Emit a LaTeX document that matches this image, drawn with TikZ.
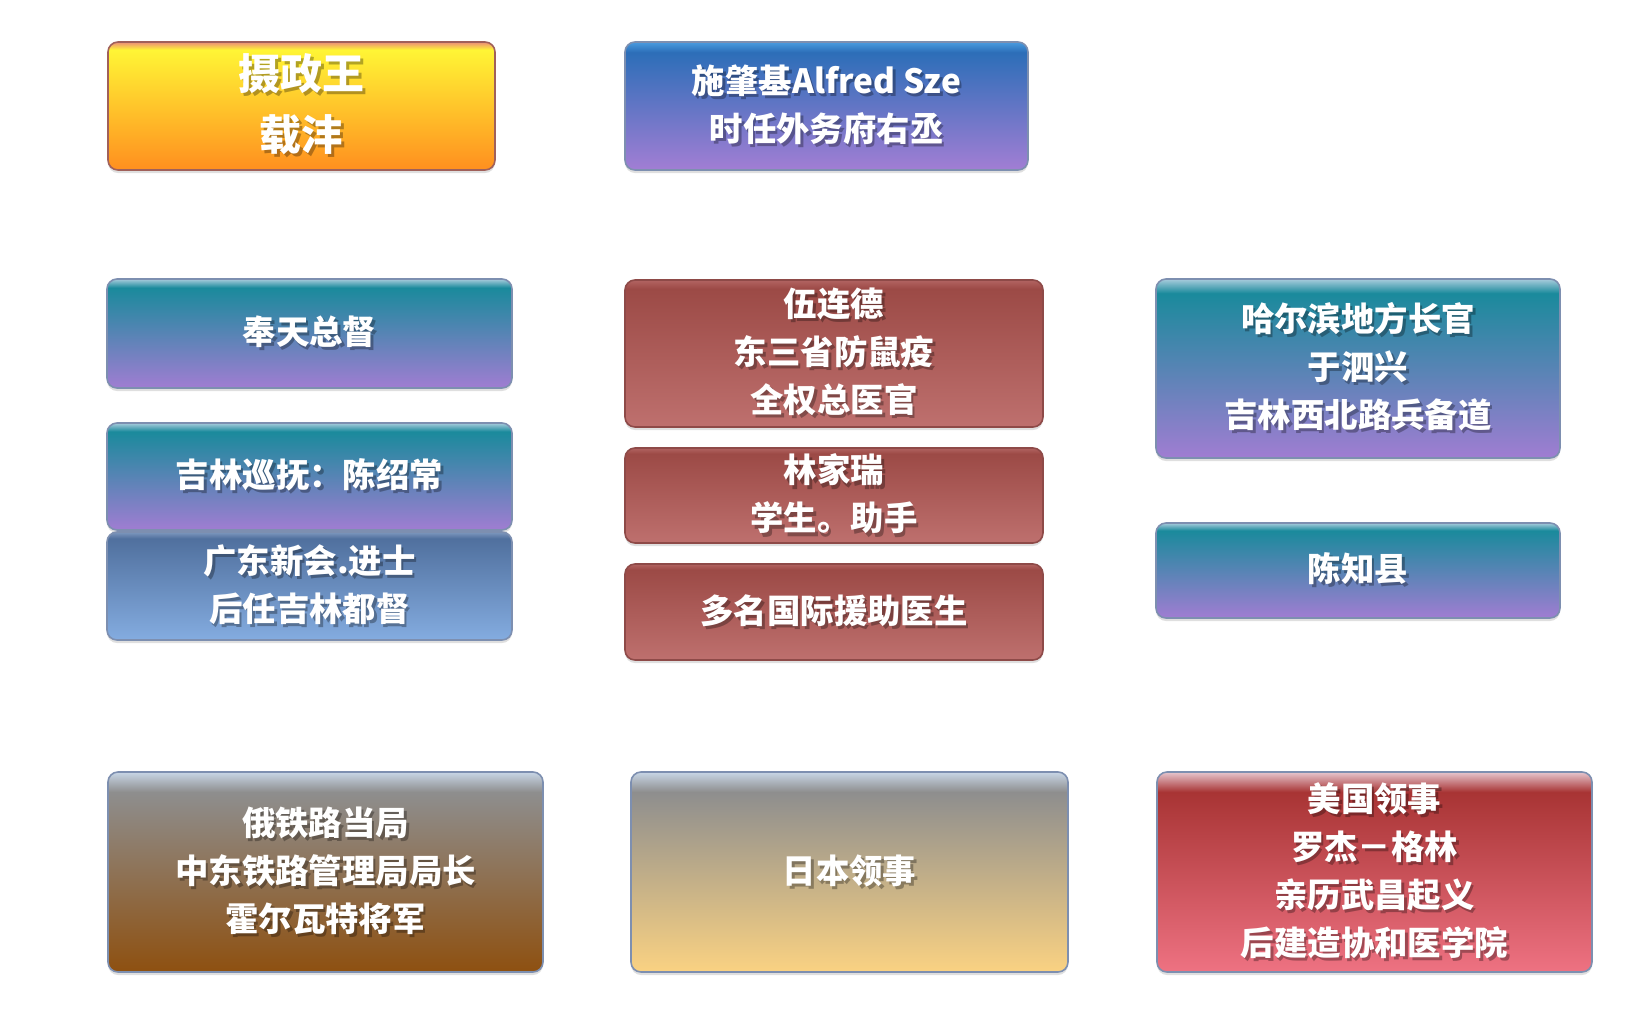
\documentclass[tikz,border=0pt]{standalone}
\usepackage{fontspec}
\newfontfamily\cjk{Noto Sans CJK SC}
\usetikzlibrary{positioning, shadows}
\definecolor{cBorder}{HTML}{7D8FB0}
\definecolor{cOrangeBorder}{HTML}{A0605A}
\definecolor{cRedBorder}{HTML}{8E4A48}
\definecolor{cOrangeHi}{HTML}{EC8C78}
\definecolor{cOrangeTop}{HTML}{FFF535}
\definecolor{cOrangeBot}{HTML}{FF8F1F}
\definecolor{cSzeHi}{HTML}{4A9CE0}
\definecolor{cSzeTop}{HTML}{2C6EB8}
\definecolor{cSzeBot}{HTML}{A27ED4}
\definecolor{cTealHi}{HTML}{A8CCDC}
\definecolor{cTealTop}{HTML}{1A8A9C}
\definecolor{cTealBot}{HTML}{A07DD2}
\definecolor{cSteelHi}{HTML}{7E98BE}
\definecolor{cSteelTop}{HTML}{50709E}
\definecolor{cSteelBot}{HTML}{84ACE0}
\definecolor{cRedHi}{HTML}{B26462}
\definecolor{cRedTop}{HTML}{9C4A46}
\definecolor{cRedBot}{HTML}{BE706E}
\definecolor{cGrayHi}{HTML}{C8D6E6}
\definecolor{cGrayTop}{HTML}{8E8E8E}
\definecolor{cBrownBot}{HTML}{8E5010}
\definecolor{cTanBot}{HTML}{FAD282}
\definecolor{cPinkHi}{HTML}{E6C6CE}
\definecolor{cPinkTop}{HTML}{A83434}
\definecolor{cPinkBot}{HTML}{EE7282}

% glossy vertical shadings: name, bottom, top, highlight, where top colour starts
\newcommand{\glossshading}[5]{\pgfdeclareverticalshading{#1}{100bp}{color(0bp)=(#2); color(25bp)=(#2); color(#5)=(#3); color(75bp)=(#4); color(100bp)=(#4)}}
\glossshading{glossOrange}{cOrangeBot}{cOrangeTop}{cOrangeHi}{72bp}
\glossshading{glossSze}{cSzeBot}{cSzeTop}{cSzeHi}{71bp}
\glossshading{glossTeal}{cTealBot}{cTealTop}{cTealHi}{71bp}
\glossshading{glossSteel}{cSteelBot}{cSteelTop}{cSteelHi}{72bp}
\glossshading{glossRed}{cRedBot}{cRedTop}{cRedHi}{72bp}
\glossshading{glossBrown}{cBrownBot}{cGrayTop}{cGrayHi}{70bp}
\glossshading{glossTan}{cTanBot}{cGrayTop}{cGrayHi}{70bp}
\glossshading{glossPink}{cPinkBot}{cPinkTop}{cPinkHi}{70bp}

% text with a soft shadow
\makeatletter
\newcommand{\sh}[1]{\leavevmode\rlap{\pgfsys@beginscope\pgfsetfillopacity{0.3}\kern1.3pt\raisebox{-1.6pt}{\color{black}#1}\pgfsys@endscope}#1}
\makeatother

\begin{document}
\begin{tikzpicture}[
    x=0.5pt, y=-0.5pt,
    font=\cjk\bfseries\fontsize{16.7pt}{24pt}\selectfont,
    box/.style={rectangle, rounded corners=5pt, draw=cBorder, line width=0.8pt, shade, text=white, align=center, inner sep=0pt, outer sep=0pt, drop shadow={shadow xshift=0pt, shadow yshift=-1.5pt, opacity=0.25}},
    redbox/.style={box, draw=cRedBorder, shading=glossRed, minimum width=209pt}
]
\useasboundingbox (0,0) rectangle (1646,1024);

% --- TOP ROW ---
\node[box, draw=cOrangeBorder, shading=glossOrange, minimum width=193.5pt, minimum height=64pt, anchor=north west, font=\cjk\bfseries\fontsize{21pt}{30.5pt}\selectfont] (regent) at (108,42) {\sh{摄政王}\\\sh{载沣}};
\node[box, shading=glossSze, minimum width=201.5pt, minimum height=64pt, anchor=north west] (sze) at (625,42) {\sh{施肇基Alfred Sze}\\\sh{时任外务府右丞}};

% --- LEFT COLUMN ---
\node[box, shading=glossTeal, minimum width=202.5pt, minimum height=54.5pt, anchor=north west] (fengtian) at (107,279) {\sh{奉天总督}};
\node[box, shading=glossTeal, minimum width=202.5pt, minimum height=53.5pt, below=17.5pt of fengtian] (jilin) {\sh{吉林巡抚：陈绍常}};
\node[box, shading=glossSteel, minimum width=202.5pt, minimum height=54pt, below=1pt of jilin] (xinhui) {\sh{广东新会.进士}\\\sh{后任吉林都督}};

% --- MIDDLE COLUMN ---
\node[redbox, minimum height=73.5pt, anchor=north west] (wu) at (625,280) {\sh{伍连德}\\\sh{东三省防鼠疫}\\\sh{全权总医官}};
\node[redbox, minimum height=47.5pt, below=10.5pt of wu] (lin) {\sh{林家瑞}\\\sh{学生。助手}};
\node[redbox, minimum height=48pt, below=10.5pt of lin] (doctors) {\sh{多名国际援助医生}};

% --- RIGHT COLUMN ---
\node[box, shading=glossTeal, minimum width=202pt, minimum height=89.5pt, anchor=north west] (harbin) at (1156,279) {\sh{哈尔滨地方长官}\\\sh{于泗兴}\\\sh{吉林西北路兵备道}};
\node[box, shading=glossTeal, minimum width=202pt, minimum height=47.5pt, below=32.5pt of harbin] (chen) {\sh{陈知县}};

% --- BOTTOM ROW ---
\node[box, shading=glossBrown, minimum width=217.5pt, minimum height=100pt, anchor=north west] (russia) at (108,772) {\sh{俄铁路当局}\\\sh{中东铁路管理局局长}\\\sh{霍尔瓦特将军}};
\node[box, shading=glossTan, minimum width=218.5pt, minimum height=100pt, anchor=north west] (japan) at (631,772) {\sh{日本领事}};
\node[box, shading=glossPink, minimum width=217.5pt, minimum height=100pt, anchor=north west] (usa) at (1157,772) {\sh{美国领事}\\\sh{罗杰－格林}\\\sh{亲历武昌起义}\\\sh{后建造协和医学院}};

\end{tikzpicture}
\end{document}
